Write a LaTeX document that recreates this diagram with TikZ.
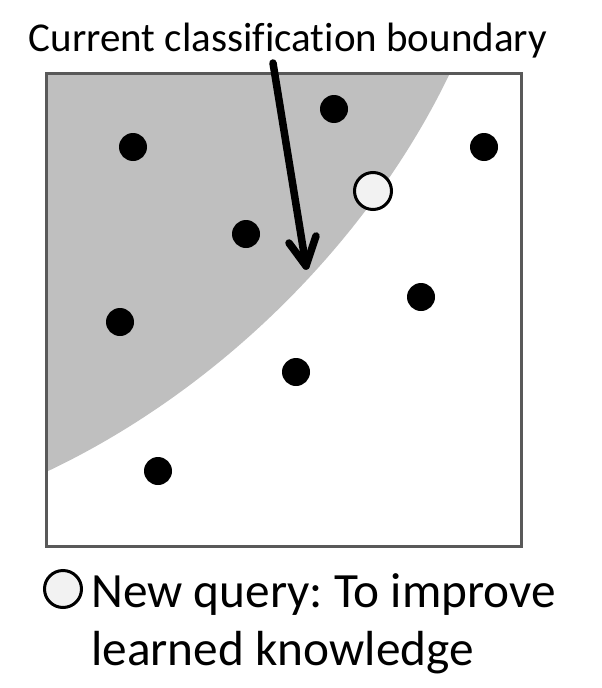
\documentclass[tikz,border=0pt]{standalone}
\usepackage{fontspec}
\setmainfont{Carlito}[Ligatures=NoCommon]
\frenchspacing
\definecolor{regiongray}{RGB}{191,191,191}
\definecolor{framegray}{RGB}{89,89,89}
\definecolor{querygray}{RGB}{242,242,242}
\begin{document}
\begin{tikzpicture}[x=1pt,y=-1pt,
  dot/.style={circle,fill=black,inner sep=0pt,minimum size=28pt},
  query/.style={circle,draw=black,line width=3pt,fill=querygray,inner sep=0pt,minimum size=37pt},
  frame/.style={draw=framegray,line width=3pt},
  pointer/.style={line width=7.5pt,line cap=round,line join=round},
  legendtext/.style={font=\fontsize{49.3}{58}\selectfont,anchor=base west,inner sep=0pt}]
\useasboundingbox (0,0) rectangle (602,688);
% shaded region
\fill[regiongray] (46,73) -- (450,73) .. controls (370,240) and (220,390) .. (46,472) -- cycle;
\draw[frame] (46,73) rectangle (521,546);
% points
\node[dot] (p1) at (133,147) {};
\node[dot] (p2) at (334,109) {};
\node[dot] (p3) at (484,147) {};
\node[dot] (p4) at (246,234) {};
\node[dot] (p5) at (421,297) {};
\node[dot] (p6) at (120,322) {};
\node[dot] (p7) at (296,372) {};
\node[dot] (p8) at (158,471) {};
\node[query] (q) at (373,191) {};
% label and arrow
\node[font=\fontsize{41}{48}\selectfont,anchor=base,inner sep=0pt] (lab) at (288,51) {Current classification boundary};
\coordinate (tail) at (273,63);
\coordinate (tip) at (306,266);
\coordinate (armL) at (289,243);
\coordinate (armR) at (316,236);
\draw[pointer] (tail) -- (tip);
\draw[pointer] (armL) -- (tip) -- (armR);
% legend
\node[query] (lq) at (63,589) {};
\node[legendtext] (l1) at (91,607) {New query: To improve};
\node[legendtext] (l2) at (91,665) {learned knowledge};
\end{tikzpicture}
\end{document}
